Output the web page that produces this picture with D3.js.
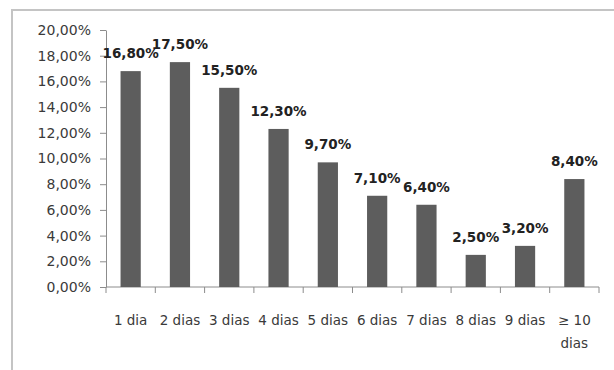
<!DOCTYPE html>
<html><head><meta charset="utf-8">
<script src="https://cdn.jsdelivr.net/npm/d3@7"></script>
<style>html,body{margin:0;padding:0;background:#fff;}svg{display:block;}</style>
</head><body><div id="chart"></div>
<script>
const categories = ["1 dia","2 dias","3 dias","4 dias","5 dias","6 dias","7 dias","8 dias","9 dias","≥ 10 dias"];
const values = [16.8,17.5,15.5,12.3,9.7,7.1,6.4,2.5,3.2,8.4];
const yTicks = [0,2,4,6,8,10,12,14,16,18,20];

const W = 614, H = 370;
const svg = d3.select("#chart").append("svg").attr("width",W).attr("height",H);

svg.append("rect").attr("x",12).attr("y",10).attr("width",W).attr("height",H)
  .attr("fill","#fff").attr("stroke","#c4c4c4").attr("stroke-width",2);

const x = d3.scaleBand().domain(categories).range([106,599]).paddingInner(0.59).paddingOuter(0.295);
const y = d3.scaleLinear().domain([0,20]).range([287,30]);
const fmt = v => d3.format(".2f")(v).replace(".",",") + "%";

const font = "'DejaVu Sans', Verdana, sans-serif";

// y axis
const yAxis = svg.append("g").attr("transform","translate(106,0)")
  .call(d3.axisLeft(y).tickValues(yTicks).tickFormat(fmt).tickSize(6).tickSizeOuter(0).tickPadding(9));
yAxis.select(".domain").attr("stroke","#8c8c8c");
yAxis.selectAll(".tick line").attr("stroke","#8c8c8c");
yAxis.selectAll("text").attr("font-family",font).attr("font-size","14px").attr("fill","#3a3a3a");

// x axis line + boundary ticks
const bounds = categories.map((c,i) => i===0 ? 106 : x(c) - x.step()*x.paddingInner()/2);
bounds.push(599);
const xg = svg.append("g");
xg.append("line").attr("x1",106).attr("x2",599).attr("y1",y(0)).attr("y2",y(0)).attr("stroke","#8c8c8c");
xg.selectAll("line.t").data(bounds).join("line").attr("class","t")
  .attr("x1",d=>d).attr("x2",d=>d).attr("y1",y(0)).attr("y2",y(0)+6).attr("stroke","#8c8c8c");

// bars
svg.selectAll("rect.bar").data(values).join("rect").attr("class","bar")
  .attr("x",(d,i)=>x(categories[i])).attr("width",x.bandwidth())
  .attr("y",d=>y(d)).attr("height",d=>y(0)-y(d)).attr("fill","#5d5d5d");

// value labels
svg.selectAll("text.val").data(values).join("text").attr("class","val")
  .attr("x",(d,i)=>x(categories[i])+x.bandwidth()/2).attr("y",d=>y(d)-13)
  .attr("text-anchor","middle").attr("font-family",font).attr("font-weight","bold")
  .attr("font-size","13.5px").attr("fill","#222").text(d=>fmt(d));

// category labels with wrapping
const cl = svg.selectAll("text.cat").data(categories).join("text").attr("class","cat")
  .attr("text-anchor","middle").attr("font-family",font).attr("font-size","13.5px").attr("fill","#3a3a3a")
  .attr("x",d=>x(d)+x.bandwidth()/2).attr("y",325);
cl.each(function(d){
  const t = d3.select(this);
  const words = d.split(" ");
  const maxW = x.step();
  let lines = [], cur = [];
  const probe = t.append("tspan");
  words.forEach(w=>{
    const test = cur.concat([w]).join(" ");
    probe.text(test);
    if (probe.node().getComputedTextLength() > maxW && cur.length){ lines.push(cur.join(" ")); cur=[w]; }
    else cur.push(w);
  });
  lines.push(cur.join(" "));
  probe.remove();
  lines.forEach((l,i)=>{
    t.append("tspan").attr("x",x(d)+x.bandwidth()/2).attr("dy",i===0?0:23).text(l);
  });
});
</script></body></html>
